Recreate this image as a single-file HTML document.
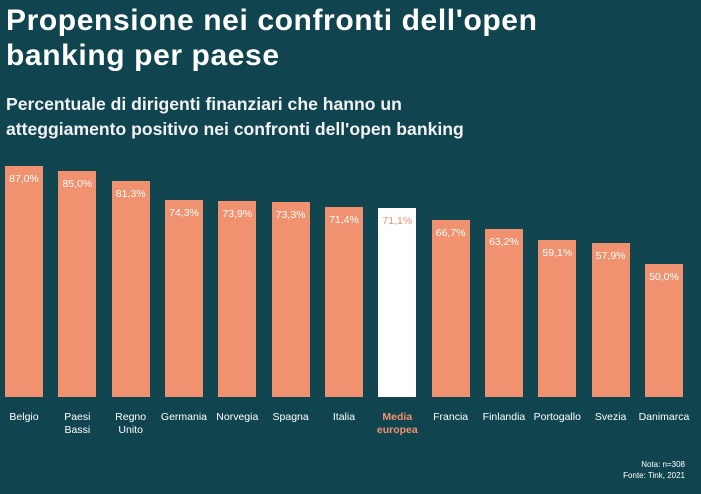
<!DOCTYPE html>
<html><head><meta charset="utf-8"><style>
body{margin:0;width:701px;height:494px;background:#104550;font-family:"Liberation Sans",sans-serif;overflow:hidden;position:relative;color:#fff}
.t{position:absolute;left:6px;top:3px;font-size:30px;letter-spacing:0.6px;font-weight:bold;line-height:35px}
.s{position:absolute;left:6px;top:92px;font-size:17.6px;font-weight:bold;line-height:25px;color:#f2f2f2}
.b{position:absolute;width:38px;background:#f0916f}
.v{position:absolute;width:38px;text-align:center;font-size:10.5px;color:#fff}
.l{position:absolute;width:60px;text-align:center;font-size:10.5px;line-height:13px;top:411px}
.n{position:absolute;right:16px;top:459px;font-size:8px;text-align:right;line-height:11px}
</style></head><body>
<div class="t">Propensione nei confronti dell'open<br>banking per paese</div>
<div class="s">Percentuale di dirigenti finanziari che hanno un<br>atteggiamento positivo nei confronti dell'open banking</div>
<div id="c"></div>
<div class="n">Nota: n=308<br>Fonte: Tink, 2021</div>
<script>
var d=[["Belgio",87.0],["Paesi<br>Bassi",85.0],["Regno<br>Unito",81.3],["Germania",74.3],["Norvegia",73.9],["Spagna",73.3],["Italia",71.4],["Media<br>europea",71.1],["Francia",66.7],["Finlandia",63.2],["Portogallo",59.1],["Svezia",57.9],["Danimarca",50.0]];
var h="";
d.forEach(function(e,i){var x=5+i*53.33,hh=e[1]*2.655,top=397-hh,m=i==7;
h+='<div class="b" style="left:'+x+'px;top:'+top+'px;height:'+hh+'px;'+(m?'background:#fff':'')+'"></div>';
h+='<div class="v" style="left:'+x+'px;top:'+(top+7)+'px;'+(m?'color:#f0916f':'')+'">'+e[1].toFixed(1).replace('.',',')+'%</div>';
h+='<div class="l" style="left:'+(x-11)+'px;'+(m?'color:#f0916f;font-weight:bold':'')+'">'+e[0]+'</div>';});
document.getElementById("c").innerHTML=h;
</script>
</body></html>
